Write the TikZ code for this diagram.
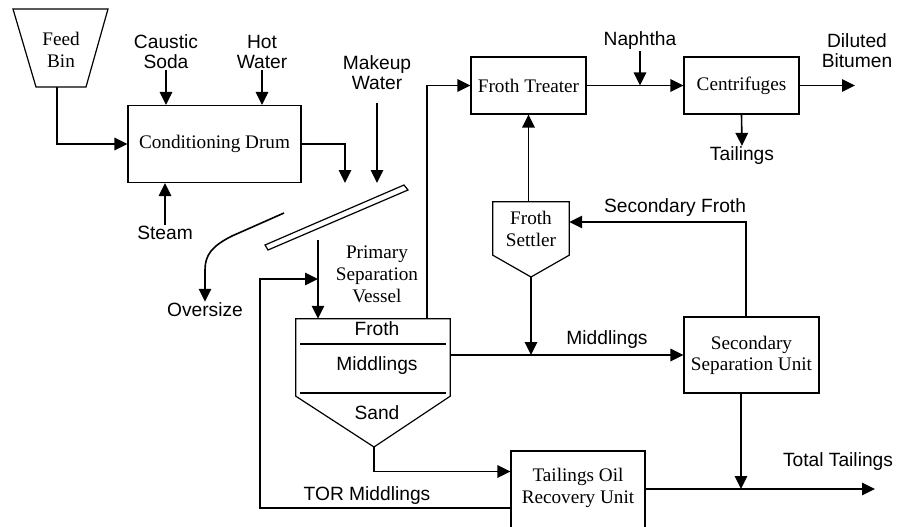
\documentclass[tikz,border=0pt]{standalone}
\usepackage{fontspec}
\setmainfont{Liberation Serif}
\newfontfamily\arialfont{Liberation Sans}
\usetikzlibrary{arrows.meta}

\begin{document}
\begin{tikzpicture}[x=1pt, y=-1pt,
    unit/.style={draw, line width=1.2pt, align=center, inner sep=0pt,
      font=\fontsize{19.2}{21}\selectfont},
    vessel/.style={align=center, inner sep=0pt, font=\fontsize{19.2}{22}\selectfont},
    lbl/.style={align=center, inner sep=1pt, font=\arialfont\fontsize{19.2}{20}\selectfont},
    pipe/.style={line width=1.6pt},
    flow/.style={pipe, -{Triangle[length=13pt,width=12.5pt]}}]
      \clip (0,0) rectangle (898,527);

      % Feed bin
      \draw[line width=1.2pt] (13,9) -- (108,9) -- (86,87) -- (36,87) -- cycle;
      \node[vessel] (bin) at (61,50) {Feed\\Bin};
      \coordinate (binout) at (57,87);

      % Units
      \node[unit, minimum width=173pt, minimum height=77pt] (drum) at (214.5,144) {Conditioning Drum};
      \node[unit, minimum width=115pt, minimum height=57pt] (treater) at (528.5,85.5) {Froth Treater};
      \node[unit, minimum width=115pt, minimum height=57pt] (cent) at (741.5,85.5) {Centrifuges};
      \node[unit, minimum width=135pt, minimum height=76pt] (ssu) at (751.5,355) {Secondary\\Separation Unit};
      \node[unit, minimum width=134pt, minimum height=81pt, text depth=0pt] (tor) at (578,491.5) {};
      \node[vessel] (torlbl) at (578,488) {Tailings Oil\\Recovery Unit};

      % Froth settler
      \node[vessel, minimum width=76pt, minimum height=53pt] (settler) at (531,228.5) {Froth\\Settler};
      \coordinate (setapex) at (531,277);
      \draw[line width=1.2pt] (settler.north west) -- (settler.north east) -- (settler.south east)
        -- (setapex) -- (settler.south west) -- cycle;

      % Primary separation vessel
      \node[minimum width=154pt, minimum height=77pt, inner sep=0pt] (psv) at (373,357.5) {};
      \coordinate (apex) at (374,447);
      \draw[line width=1.2pt] (psv.south west) -- (psv.north west) -- (psv.north east)
        -- (psv.south east) -- (apex) -- cycle;
      \draw[line width=1.2pt] (300,344) -- (446,344);
      \draw[line width=1.2pt] (300,393) -- (446,393);
      \node[lbl] (froth) at (377,329) {Froth};
      \node[lbl] (midd) at (377,366) {Middlings};
      \node[lbl] (sand) at (377,413) {Sand};
      \node[vessel] (psvlbl) at (377,274) {Primary\\Separation\\Vessel};

      % Screen
      \draw[line width=1.2pt] (265,245) -- (404,185) -- (408,190) -- (268,250) -- cycle;

      % Stream labels
      \node[lbl] (caustic) at (166,52) {Caustic\\Soda};
      \node[lbl] (hot) at (262,52) {Hot\\Water};
      \node[lbl] (makeup) at (377,73) {Makeup\\Water};
      \node[lbl] (steam) at (165,233) {Steam};
      \node[lbl] (oversize) at (205,310) {Oversize};
      \node[lbl] (tormid) at (367,496) {TOR Middlings};
      \node[lbl] (midlbl) at (607,340) {Middlings};
      \node[lbl] (secfroth) at (675,208) {Secondary Froth};
      \node[lbl] (naphtha) at (640,41) {Naphtha};
      \node[lbl] (dilbit) at (857,51) {Diluted\\Bitumen};
      \node[lbl] (tails) at (742,156) {Tailings};
      \node[lbl] (total) at (838,462) {Total Tailings};

      \coordinate (drop1) at (345,183);
      \coordinate (drop2) at (377,183);
      \coordinate (psvin) at (318,240);
      \coordinate (recyc) at (260,279);
      \coordinate (dbout) at (855,85.5);
      \coordinate (ttjoin) at (741,489);
      \coordinate (ttend) at (875,489);

      % Streams
      \draw[flow] (binout) |- (drum.west);
      \draw[flow] (caustic.south) -- (caustic.south |- drum.north);
      \draw[flow] (hot.south) -- (hot.south |- drum.north);
      \draw[flow] (steam.north) -- (steam.north |- drum.south);
      \draw[flow] (drum.east) -| (drop1);
      \draw[flow] ([yshift=-12pt]makeup.south) -- (drop2);
      \draw[flow] (284,213) -- (232,236) .. controls (212,246) and (205,255) .. (205,270) -- (oversize.north);
      \draw[flow] (psvin) -- (psvin |- psv.north);
      \draw[flow] ([yshift=-16.5pt]tor.west) -| (recyc) -- (psvin |- recyc);
      \draw[flow] (apex) |- ([yshift=20pt]tor.west);
      \draw[flow] (psv.east |- ssu.west) -- (ssu.west);
      \draw[flow] (setapex) -- (setapex |- ssu.west);
      \draw[flow] (treater.south |- settler.north) -- (treater.south);
      \draw[flow] ([xshift=54pt]psv.north) |- (treater.west);
      \draw[flow] (treater.east) -- (cent.west);
      \draw[flow] (naphtha.south) -- (naphtha.south |- treater.east);
      \draw[flow] (cent.east) -- (dbout);
      \draw[flow] (cent.south) -- (tails.north);
      \draw[flow] ([xshift=-5.5pt]ssu.north) |- ([yshift=6.5pt]settler.east);
      \draw[flow] ([xshift=-10.5pt]ssu.south) -- (ttjoin);
      \draw[flow] (tor.east |- ttend) -- (ttend);
    \end{tikzpicture}
\end{document}
